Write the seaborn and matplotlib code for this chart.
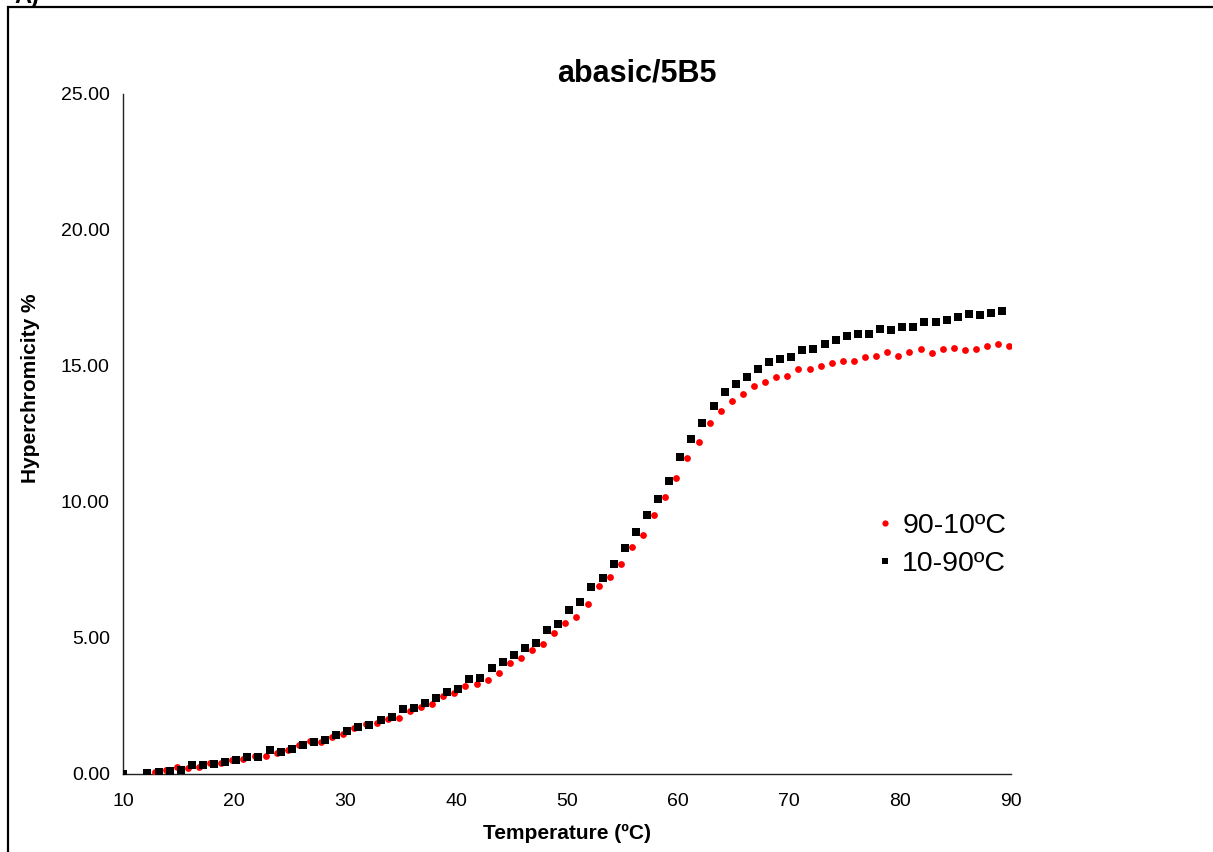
import matplotlib
matplotlib.use("Agg")
import matplotlib.pyplot as plt
import seaborn as sns
import pandas as pd
from matplotlib.patches import Rectangle
from matplotlib.lines import Line2D

# ---- data ----
series_labels = ["90-10ºC", "10-90ºC"]
series_colors = ["#FF0000", "#000000"]

temp_cooling = [12.85, 13.85, 14.85, 15.85, 16.85, 17.85, 18.85, 19.85, 20.85, 21.85,
                22.85, 23.85, 24.85, 25.85, 26.85, 27.85, 28.85, 29.85, 30.85, 31.85,
                32.85, 33.85, 34.85, 35.85, 36.85, 37.85, 38.85, 39.85, 40.85, 41.85,
                42.85, 43.85, 44.85, 45.85, 46.85, 47.85, 48.85, 49.85, 50.85, 51.85,
                52.85, 53.85, 54.85, 55.85, 56.85, 57.85, 58.85, 59.85, 60.85, 61.85,
                62.85, 63.85, 64.85, 65.85, 66.85, 67.85, 68.85, 69.85, 70.85, 71.85,
                72.85, 73.85, 74.85, 75.85, 76.85, 77.85, 78.85, 79.85, 80.85, 81.85,
                82.85, 83.85, 84.85, 85.85, 86.85, 87.85, 88.85, 89.85]
hyper_cooling = [0.07, 0.16, 0.27, 0.22, 0.25, 0.42, 0.39, 0.53, 0.56, 0.67,
                 0.65, 0.77, 0.90, 1.07, 1.22, 1.19, 1.37, 1.46, 1.68, 1.82,
                 1.89, 2.04, 2.07, 2.32, 2.45, 2.58, 2.87, 2.96, 3.25, 3.31,
                 3.46, 3.71, 4.09, 4.25, 4.57, 4.78, 5.19, 5.54, 5.78, 6.24,
                 6.93, 7.24, 7.72, 8.36, 8.79, 9.53, 10.20, 10.88, 11.61, 12.21,
                 12.92, 13.33, 13.70, 13.97, 14.26, 14.42, 14.60, 14.65, 14.89, 14.88,
                 15.01, 15.10, 15.18, 15.19, 15.33, 15.38, 15.50, 15.36, 15.53, 15.64,
                 15.49, 15.64, 15.66, 15.58, 15.63, 15.72, 15.81, 15.75]

temp_heating = [10.0, 12.2, 13.2, 14.2, 15.2, 16.2, 17.2, 18.2, 19.2, 20.2, 21.2,
                22.2, 23.2, 24.2, 25.2, 26.2, 27.2, 28.2, 29.2, 30.2, 31.2,
                32.2, 33.2, 34.2, 35.2, 36.2, 37.2, 38.2, 39.2, 40.2, 41.2,
                42.2, 43.2, 44.2, 45.2, 46.2, 47.2, 48.2, 49.2, 50.2, 51.2,
                52.2, 53.2, 54.2, 55.2, 56.2, 57.2, 58.2, 59.2, 60.2, 61.2,
                62.2, 63.2, 64.2, 65.2, 66.2, 67.2, 68.2, 69.2, 70.2, 71.2,
                72.2, 73.2, 74.2, 75.2, 76.2, 77.2, 78.2, 79.2, 80.2, 81.2,
                82.2, 83.2, 84.2, 85.2, 86.2, 87.2, 88.2, 89.2]
hyper_heating = [0.00, 0.03, 0.06, 0.12, 0.15, 0.32, 0.32, 0.38, 0.43, 0.51, 0.64,
                 0.64, 0.89, 0.81, 0.92, 1.05, 1.18, 1.26, 1.43, 1.58, 1.72,
                 1.81, 1.99, 2.11, 2.38, 2.41, 2.62, 2.81, 3.00, 3.13, 3.48,
                 3.54, 3.90, 4.10, 4.37, 4.65, 4.81, 5.29, 5.52, 6.04, 6.33,
                 6.86, 7.19, 7.72, 8.30, 8.88, 9.51, 10.10, 10.78, 11.64, 12.33,
                 12.89, 13.52, 14.04, 14.34, 14.60, 14.89, 15.13, 15.24, 15.34, 15.57,
                 15.63, 15.81, 15.97, 16.09, 16.17, 16.19, 16.36, 16.33, 16.43, 16.43,
                 16.62, 16.63, 16.70, 16.79, 16.90, 16.88, 16.95, 17.03]

x_ticks = [10, 20, 30, 40, 50, 60, 70, 80, 90]
y_ticks = [0, 5, 10, 15, 20, 25]
title_text = "abasic/5B5"
x_label = "Temperature (ºC)"
y_label = "Hyperchromicity %"
panel_label = "A)"

df_cool = pd.DataFrame({"Temperature": temp_cooling, "Hyper": hyper_cooling,
                        "Series": series_labels[0]})
df_heat = pd.DataFrame({"Temperature": temp_heating, "Hyper": hyper_heating,
                        "Series": series_labels[1]})

# ---- style ----
sns.set_style("white")
plt.rcParams['font.family'] = ['Liberation Sans', 'DejaVu Sans']
plt.rcParams['text.color'] = 'black'
plt.rcParams['axes.labelcolor'] = 'black'
plt.rcParams['xtick.color'] = 'black'
plt.rcParams['ytick.color'] = 'black'

W, H = 1213, 852
fig = plt.figure(figsize=(W / 100, H / 100), dpi=100)
fig.patch.set_facecolor("white")
ax = fig.add_axes([123 / W, 78 / H, 888 / W, 680 / H])

sns.scatterplot(data=df_cool, x="Temperature", y="Hyper", color=series_colors[0],
                marker="o", s=24, linewidth=0, ax=ax, legend=False, zorder=3)
sns.scatterplot(data=df_heat, x="Temperature", y="Hyper", color=series_colors[1],
                marker="s", s=26, linewidth=0, ax=ax, legend=False, zorder=4)

ax.set_xlim(10, 90)
ax.set_ylim(0, 25)
ax.set_xticks(x_ticks)
ax.set_yticks(y_ticks)
ax.set_yticklabels([f"{v:.2f}" for v in y_ticks])
ax.set_xlabel("")
ax.set_ylabel("")
for side in ["top", "right"]:
    ax.spines[side].set_visible(False)
for side in ["left", "bottom"]:
    ax.spines[side].set_color("#222222")
    ax.spines[side].set_linewidth(1.0)
    ax.spines[side].set_clip_on(False)
ax.tick_params(axis="both", which="major", direction="out", length=4.5, width=1.0,
               color="#222222", labelsize=14, labelcolor="black")
ax.tick_params(axis="x", pad=9)
ax.tick_params(axis="y", pad=5)
ax.set_facecolor("white")

# Legend
handles = [Line2D([0], [0], marker="o", linestyle="none", color=series_colors[0],
                  markersize=4.5, markeredgewidth=0),
           Line2D([0], [0], marker="s", linestyle="none", color=series_colors[1],
                  markersize=5, markeredgewidth=0)]
ax.legend(handles, series_labels, loc="center left",
          bbox_to_anchor=((878 - 123) / 888, (774 - 545) / 680),
          frameon=False, fontsize=20.5, handlelength=0.5, handletextpad=0.35,
          labelspacing=0.42, borderpad=0, borderaxespad=0, labelcolor="black")

# Texts
fig.text(637 / W, 1 - 74 / H, title_text, ha="center", va="center",
         fontsize=22, fontweight="bold", color="black")
fig.text(567 / W, 1 - 833 / H, x_label, ha="center", va="center",
         fontsize=15, fontweight="bold", color="black")
fig.text(31 / W, 1 - 388 / H, y_label, ha="center", va="center", rotation=90,
         fontsize=15, fontweight="bold", color="black")
fig.text(14 / W, 1 - 3 / H, panel_label, ha="left", va="baseline",
         fontsize=17, fontweight="bold", color="black")

# Outer frame
fig.patches.append(Rectangle((8 / W, -0.05), 1.2, 1 - 7 / H + 0.05,
                             transform=fig.transFigure, fill=False,
                             edgecolor="black", linewidth=1.6, zorder=0))

fig.savefig("out.png", dpi=100, facecolor="white")
